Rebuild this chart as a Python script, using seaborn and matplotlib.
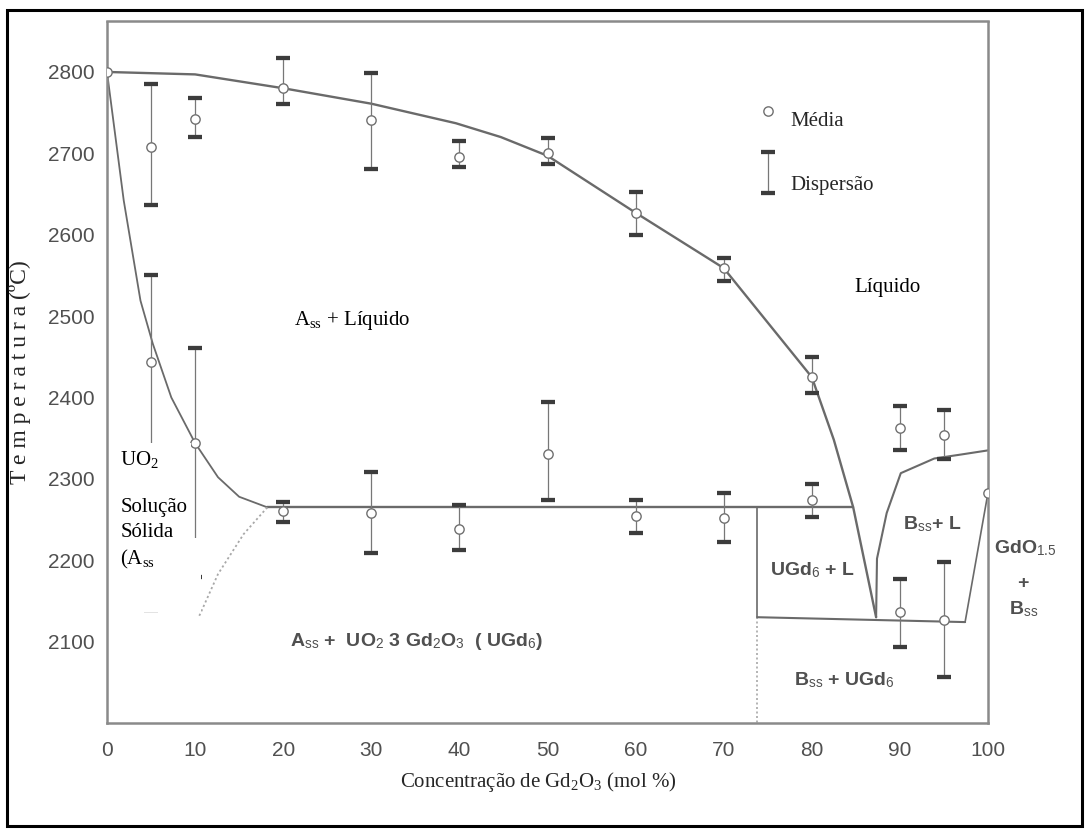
import matplotlib
matplotlib.use("Agg")
import matplotlib.pyplot as plt
from matplotlib.patches import Rectangle
import seaborn as sns
import pandas as pd

# ---------------- data ----------------
upper_x = [5, 10, 20, 30, 40, 50, 60, 70, 80]
upper_mean = [2708, 2742, 2780, 2741, 2696, 2700, 2627, 2559, 2425]
upper_lo = [2637, 2720, 2761, 2681, 2683, 2687, 2600, 2543, 2405]
upper_hi = [2785, 2768, 2817, 2799, 2715, 2719, 2653, 2572, 2450]

mid_x = [5, 10, 20, 30, 40, 50, 60, 70, 80, 90, 95]
mid_mean = [2444, 2344, 2260, 2258, 2238, 2330, 2254, 2252, 2274, 2363, 2354]
mid_lo = [2139, 2179, 2247, 2209, 2212, 2274, 2234, 2223, 2253, 2335, 2325]
mid_hi = [2551, 2461, 2272, 2308, 2268, 2394, 2274, 2283, 2294, 2390, 2385]

low_x = [90, 95]
low_mean = [2137, 2127]
low_lo = [2094, 2056]
low_hi = [2177, 2198]

single_x = [0, 100]
single_mean = [2800, 2283]

liq_x = [0, 10, 20, 30, 39.6, 44.7, 50, 60, 70, 80, 82.5, 84.7, 87.3]
liq_T = [2800, 2797, 2780, 2761, 2737, 2720, 2697, 2627, 2559, 2425, 2348, 2265, 2130]
left_x = [0, 1.9, 3.8, 5.2, 7.3, 10, 12.6, 15, 18.2]
left_T = [2800, 2642, 2519, 2466, 2400, 2344, 2302, 2278, 2265]
eut_x = [18.2, 84.7]
eut_T = [2265, 2265]
sol_dot_x = [18.2, 15.5, 12.6, 10.7, 10.4]
sol_dot_T = [2265, 2232, 2183, 2137, 2130]
ugd_x = [73.8, 73.8]
ugd_T = [2265, 2130]
ugd_dot_x = [73.8, 73.8]
ugd_dot_T = [2130, 2000]
low_line_x = [73.8, 97.4]
low_line_T = [2130, 2124]
bliq_x = [87.3, 87.4, 88.5, 90.1, 93.9, 97, 100]
bliq_T = [2130, 2202, 2258, 2307, 2325, 2330, 2335]
bsol_x = [97.4, 100]
bsol_T = [2124, 2283]

x_ticks = [0, 10, 20, 30, 40, 50, 60, 70, 80, 90, 100]
y_ticks = [2100, 2200, 2300, 2400, 2500, 2600, 2700, 2800]

# ---------------- style ----------------
sns.set_theme(style="white")
plt.rcParams["font.family"] = ["Liberation Sans", "DejaVu Sans"]
plt.rcParams["mathtext.fontset"] = "custom"
plt.rcParams["mathtext.rm"] = "Liberation Serif"
plt.rcParams["mathtext.sf"] = "Liberation Sans"
plt.rcParams["mathtext.it"] = "Liberation Serif:italic"
plt.rcParams["mathtext.bf"] = "Liberation Sans:bold"

W, H = 1089, 833
fig = plt.figure(figsize=(W / 100, H / 100), dpi=100)
ax = fig.add_axes([107 / W, 1 - 723 / H, (988 - 107) / W, (723 - 21.5) / H])

LINE = "#6a6a6a"
GRAY_TXT = "#505050"

def curve(x, y, lw=1.3, ls="-", color=LINE):
    df = pd.DataFrame({"x": x, "y": y})
    sns.lineplot(data=df, x="x", y="y", sort=False, estimator=None, ax=ax,
                 color=color, lw=lw, linestyle=ls)

curve(liq_x, liq_T, lw=1.7)
curve(left_x, left_T, lw=1.3)
curve(eut_x, eut_T, lw=1.7)
curve(sol_dot_x, sol_dot_T, lw=1.3, ls=(0, (1.2, 1.5)), color="#a8a8a8")
curve(ugd_x, ugd_T, lw=1.2)
curve(ugd_dot_x, ugd_dot_T, lw=1.2, ls=(0, (1.2, 1.5)), color="#a8a8a8")
curve(low_line_x, low_line_T, lw=1.5)
curve(bliq_x, bliq_T, lw=1.5)
curve(bsol_x, bsol_T, lw=1.2)

# error bars
def bars(x, lo, hi):
    for xi, l, h in zip(x, lo, hi):
        ax.errorbar([xi], [(l + h) / 2], yerr=[[(l + h) / 2 - l], [h - (l + h) / 2]],
                    fmt="none", ecolor="#777777", elinewidth=0.9, capsize=4.8,
                    capthick=3.0, zorder=3)
        # darker caps
    ax.errorbar(x, [(l + h) / 2 for l, h in zip(lo, hi)],
                yerr=[[(h - l) / 2 for l, h in zip(lo, hi)]] * 2,
                fmt="none", ecolor="#3c3c3c", elinewidth=0, capsize=4.8,
                capthick=3.0, zorder=3)

bars(upper_x, upper_lo, upper_hi)
bars(mid_x, mid_lo, mid_hi)
bars(low_x, low_lo, low_hi)

means = pd.DataFrame({
    "x": upper_x + mid_x + low_x + single_x,
    "T": upper_mean + mid_mean + low_mean + single_mean,
})
sns.scatterplot(data=means, x="x", y="T", ax=ax, s=45, marker="o",
                facecolor="white", edgecolor="#707070", linewidth=1.0, zorder=4)

# legend (hand drawn like the original)
leg = pd.DataFrame({"x": [75.0], "T": [2752]})
sns.scatterplot(data=leg, x="x", y="T", ax=ax, s=45, marker="o",
                facecolor="white", edgecolor="#707070", linewidth=1.0, zorder=4)
bars([75.0], [2651], [2702])
ax.text(77.6, 2739, "Média", family="Liberation Serif", fontsize=15, va="center", ha="left")
ax.text(77.6, 2661, "Dispersão", family="Liberation Serif", fontsize=15, va="center", ha="left")

# white patches covering the original lettering
ax.add_patch(Rectangle((1.4, 2225), 8.1, 119, facecolor="white", edgecolor="none", zorder=5))
ax.add_patch(Rectangle((1.7, 2137), 9.0, 90, facecolor="white", edgecolor="none", zorder=5))

# serif labels
serif = dict(family="Liberation Serif", fontsize=15, color="black", zorder=6)
ax.text(84.8, 2535, "Líquido", va="center", ha="left", **serif)
ax.text(21.2, 2495, r"A$_{\mathrm{ss}}$ + Líquido", va="center", ha="left", **serif)
ax.text(1.5, 2324, r"UO$_{\mathrm{2}}$", va="center", ha="left", **serif)
ax.text(1.5, 2265, "Solução", va="center", ha="left", **serif)
ax.text(1.5, 2234, "Sólida", va="center", ha="left", **serif)
ax.text(1.5, 2201, r"(A$_{\mathrm{ss}}$", va="center", ha="left", **serif)

# sans (original diagram) labels
sans = dict(family="Liberation Sans", fontsize=14, color=GRAY_TXT, weight="bold")
ax.text(20.8, 2100, r"A$_{\mathsf{ss}}$ +  UO$_{\mathsf{2}}$ 3 Gd$_{\mathsf{2}}$O$_{\mathsf{3}}$  ( UGd$_{\mathsf{6}}$)",
        va="center", ha="left", **sans)
ax.text(75.3, 2188, r"UGd$_{\mathsf{6}}$ + L", va="center", ha="left", **sans)
ax.text(90.3, 2244, r"B$_{\mathsf{ss}}$+ L", va="center", ha="left", **sans)
ax.text(78.0, 2053, r"B$_{\mathsf{ss}}$ + UGd$_{\mathsf{6}}$", va="center", ha="left", **sans)
ax.text(100.7, 2215, r"GdO$_{\mathsf{1.5}}$", va="center", ha="left", clip_on=False, **sans)
ax.text(104.0, 2172, "+", va="center", ha="center", clip_on=False, **sans)
ax.text(104.0, 2140, r"B$_{\mathsf{ss}}$", va="center", ha="center", clip_on=False, **sans)

# axes
ax.set_xlim(0, 100)
ax.set_ylim(2000, 2862)
ax.set_xticks(x_ticks)
ax.set_yticks(y_ticks)
ax.set_xticklabels([str(v) for v in x_ticks])
ax.set_yticklabels([str(v) for v in y_ticks])
ax.tick_params(axis="both", direction="in", length=9, width=1.3, color="#8a8a8a",
               labelsize=15, labelcolor=GRAY_TXT)
ax.tick_params(axis="x", pad=13)
ax.tick_params(axis="y", pad=9)
ax.set_xlabel("")
ax.set_ylabel("")
for s in ax.spines.values():
    s.set_color("#8a8a8a")
    s.set_linewidth(1.8)
    s.set_visible(True)
ax.grid(False)

fig.text((408 + 668) / 2 / W, 1 - 782 / H, r"Concentração de Gd$_{\mathrm{2}}$O$_{\mathrm{3}}$ (mol %)",
         family="Liberation Serif", fontsize=15, ha="center", va="center")
fig.text(20 / W, 1 - 372 / H, "T e m p e r a t u r a (ºC)", rotation=90,
         family="Liberation Serif", fontsize=17, ha="center", va="center")

# outer frame
fig.patches.append(Rectangle((7 / W, 1 - 826 / H), (1082 - 7) / W, (826 - 10) / H,
                             transform=fig.transFigure, fill=False, edgecolor="black",
                             linewidth=2.2))

fig.savefig("out.png", dpi=100, facecolor="white")
